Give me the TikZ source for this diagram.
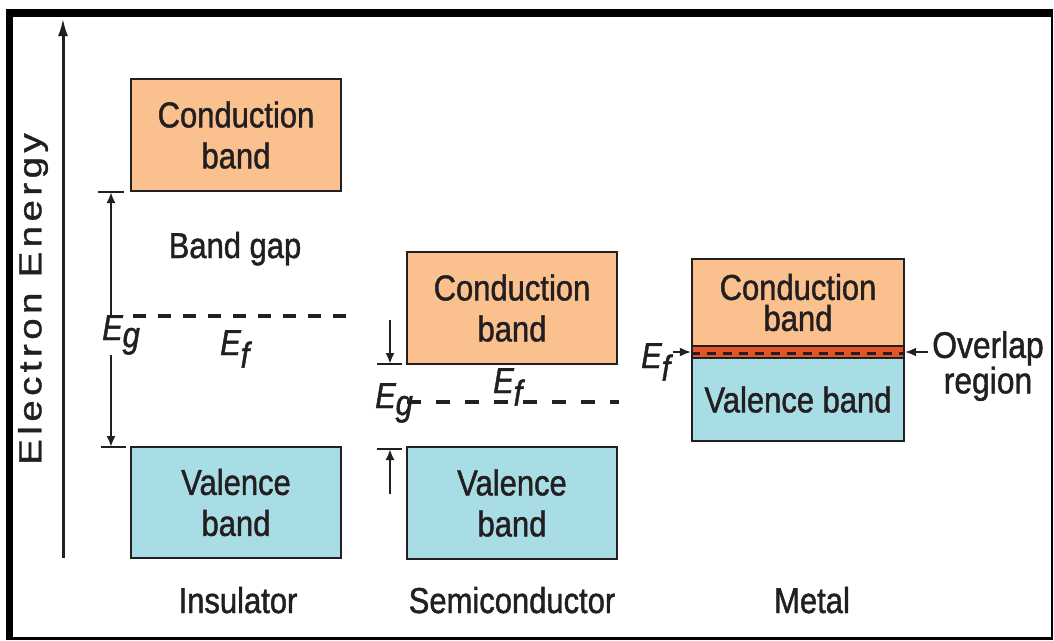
\documentclass[tikz,border=0pt]{standalone}
\usepackage{fontspec}
\setmainfont{Liberation Sans}[FakeStretch=0.86,FakeBold=1.2]
\newfontfamily\axisfont{Liberation Sans}[FakeStretch=1.2,LetterSpace=14,FakeBold=1.2]
\usetikzlibrary{arrows.meta}

\definecolor{condband}{RGB}{250,192,142}
\definecolor{valband}{RGB}{169,221,230}
\definecolor{overlap}{RGB}{226,85,43}
\definecolor{ink}{RGB}{35,31,32}

\newcommand{\level}[2]{\textit{E}\kern-0.5pt\raisebox{#2}{\textit{#1}}}

\begin{document}
\begin{tikzpicture}[x = 1pt, y = -1pt, font = \fontsize{36}{41}\selectfont,
	band/.style = {draw = ink, line width = 2.4pt, inner sep = 0pt, align = center,
		text = ink, minimum width = 210pt},
	gap/.style = {draw = ink, line width = 2.2pt, -{Latex[length = 11pt, width = 9pt]}},
	tick/.style = {draw = ink, line width = 2.2pt},
	fermi/.style = {draw = ink, line width = 3.2pt, dash pattern = on 13pt off 12pt},
	lbl/.style = {text = ink, inner sep = 0pt}]
	\useasboundingbox (0,0) rectangle (1054,640);
	\fill[black] (6,9) rectangle (1053,640);
	\fill[white] (13,17) rectangle (1051,637);

	\coordinate (AxisFoot) at (63,558);
	\coordinate (AxisTip) at (63,18);
	\draw[ink, line width = 3pt, -{Latex[length = 18pt, width = 10pt]}] (AxisFoot) -- (AxisTip);
	\node[lbl, rotate = 90, font = \axisfont\fontsize{32}{32}\selectfont] (AxisLbl) at (33,299) {Electron Energy};

	\node[band, fill = condband, minimum height = 112pt] (InsCB) at (236,135) {Conduction\\band};
	\node[band, fill = valband, minimum height = 111pt] (InsVB) at (236,502.5) {Valence\\band};
	\node[lbl, anchor = base] (InsGap) at (235,258) {Band gap};
	\node[lbl, anchor = base west] (InsEg) at (102,340) {\level{g}{-0.2em}};
	\node[lbl, anchor = base west] (InsEf) at (220,355) {\level{f}{-0.35em}};
	\node[lbl, anchor = base] (InsName) at (238,613) {Insulator};
	\coordinate (InsTop) at (111,192);
	\coordinate (InsBot) at (111,447);
	\coordinate (InsFermiL) at (133,316);
	\coordinate (InsFermiR) at (347,316);
	\draw[gap] (InsEg.north -| InsTop) -- (InsTop);
	\draw[gap] (InsEg.south -| InsBot) -- (InsBot);
	\draw[tick] ([xshift = -13pt]InsTop) -- ([xshift = 13pt]InsTop);
	\draw[tick] ([xshift = -10pt]InsBot) -- ([xshift = 15pt]InsBot);
	\draw[fermi] (InsFermiL) -- (InsFermiR);

	\node[band, fill = condband, minimum height = 112pt] (SemCB) at (512,308) {Conduction\\band};
	\node[band, fill = valband, minimum height = 112pt] (SemVB) at (512,503) {Valence\\band};
	\node[lbl, anchor = base west] (SemEg) at (375,408) {\level{g}{-0.2em}};
	\node[lbl, anchor = base west] (SemEf) at (493,393) {\level{f}{-0.35em}};
	\node[lbl, anchor = base] (SemName) at (512,613) {Semiconductor};
	\coordinate (SemTop) at (390,364);
	\coordinate (SemBot) at (390,449);
	\coordinate (SemDown) at (390,320);
	\coordinate (SemUp) at (390,494);
	\coordinate (SemFermiL) at (407,402);
	\coordinate (SemFermiR) at (619,402);
	\draw[gap] (SemDown) -- (SemTop);
	\draw[gap] (SemUp) -- (SemBot);
	\draw[tick] ([xshift = -13pt]SemTop) -- ([xshift = 12pt]SemTop);
	\draw[tick] ([xshift = -13pt]SemBot) -- ([xshift = 12pt]SemBot);
	\draw[fermi, dash pattern = on 14pt off 15pt] (SemFermiL) -- (SemFermiR);

	\node[band, fill = condband, minimum width = 212pt, minimum height = 87pt,
		font = \fontsize{36}{31}\selectfont] (MetCB) at (798,302.5) {Conduction\\band};
	\node[band, fill = valband, minimum width = 212pt, minimum height = 83pt] (MetVB) at (798,399.5) {Valence band};
	\node[band, fill = overlap, minimum width = 212pt, minimum height = 12pt] (MetOv) at (798,352) {};
	\draw[ink, line width = 3.4pt, dash pattern = on 9pt off 7pt] ([yshift = -1.5pt]MetOv.west) -- ([yshift = -1.5pt]MetOv.east);
	\node[lbl, anchor = base west] (MetEf) at (641,368) {\level{f}{-0.35em}};
	\node[lbl, align = center, font = \fontsize{37}{31}\selectfont] (MetOvLbl) at (988,366) {Overlap\\region};
	\node[lbl, anchor = base] (MetName) at (812,613) {Metal};
	\draw[gap, line width = 1.6pt] (MetEf.east |- MetOv.west) -- (MetOv.west);
	\draw[gap, line width = 1.6pt] ([xshift = -4pt]MetOvLbl.west |- MetOv.east) -- (MetOv.east);
\end{tikzpicture}
\end{document}
